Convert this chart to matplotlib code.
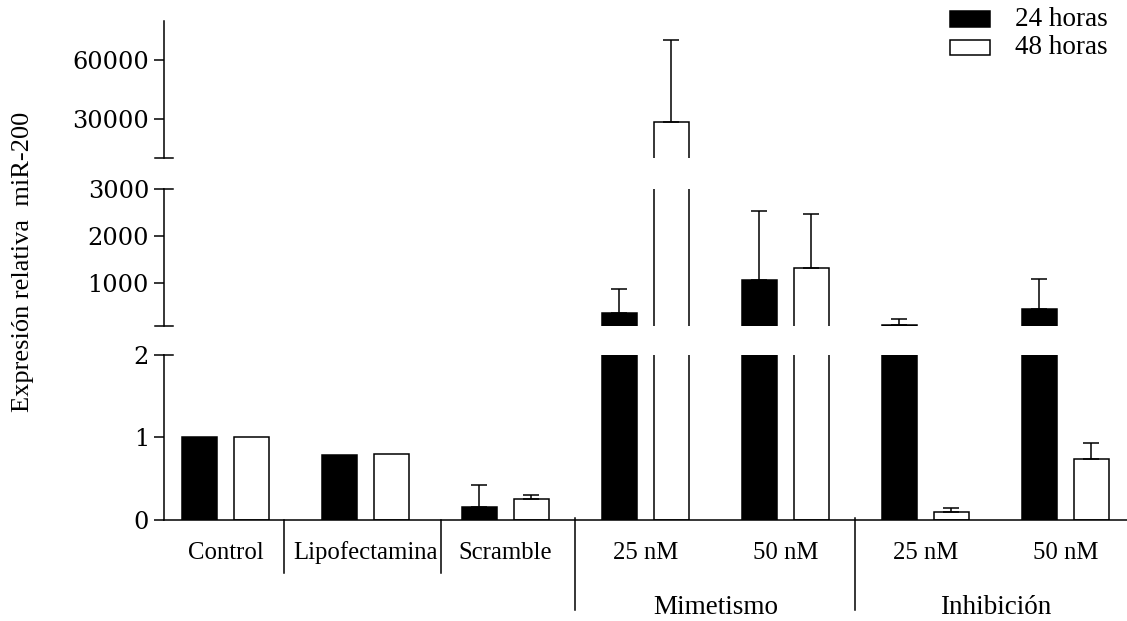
import numpy as np
import matplotlib
matplotlib.use('Agg')
import matplotlib.pyplot as plt
from matplotlib.patches import Rectangle

categorias = ['Control', 'Lipofectamina', 'Scramble', '25 nM', '50 nM', '25 nM', '50 nM']
grupos = ['Mimetismo', 'Inhibición']
series = ['24 horas', '48 horas']

h24 = [1.0, 0.79, 0.16, 357, 1075, 103, 457]
h24_err = [0, 0, 0.26, 511, 1461, 142, 639]
h48 = [1.0, 0.80, 0.25, 28400, 1321, 0.10, 0.735]
h48_err = [0, 0, 0.05, 41900, 1143, 0.045, 0.195]

# broken y axis: (ylim, ticks), bottom to top
tramos = [((0, 2), [0, 1, 2]),
          ((100, 3000), [1000, 2000, 3000]),
          ((10000, 80000), [30000, 60000])]

W, H = 1127, 621
fig = plt.figure(figsize=(W / 100, H / 100), dpi=100)

left = 164 / W
width = 1 - left
# pixel extents (top, bottom) of each segment
extents = [(354.5, 520), (188.9, 325.5), (20.6, 158.4)]

x = np.arange(len(categorias))
bw = 0.25
off = 0.186
lw = 1.1
tick_font = dict(family='DejaVu Serif', size=17.3)
break_dx = 9 / (W - 164)

axes = []
for (ylim, yt), (ytop, ybot) in zip(tramos, extents):
    ax = fig.add_axes([left, 1 - ybot / H, width, (ybot - ytop) / H])
    ax.bar(x - off, h24, bw, color='black', edgecolor='black', linewidth=lw)
    ax.bar(x + off, h48, bw, color='white', edgecolor='black', linewidth=lw)
    for xs, v, e in [(x - off, h24, h24_err), (x + off, h48, h48_err)]:
        m = np.array(e) > 0
        ax.errorbar(xs[m], np.array(v)[m], yerr=[np.zeros(m.sum()), np.array(e)[m]],
                    fmt='none', ecolor='black', elinewidth=lw, capsize=5.8, capthick=lw,
                    zorder=3)
    ax.set_xlim(-0.439, 6.44)
    ax.set_ylim(*ylim)
    ax.set_yticks(yt)
    ax.set_yticklabels([str(t) for t in yt], fontdict=tick_font)
    ax.tick_params(axis='y', length=7.2, width=lw, pad=3.6)
    ax.set_xticks([])
    for s in ['top', 'right', 'bottom']:
        ax.spines[s].set_visible(False)
    ax.spines['left'].set_linewidth(lw)
    ax.patch.set_visible(False)
    axes.append(ax)

ax0, ax1, ax2 = axes
ax0.spines['bottom'].set_visible(True)
ax0.spines['bottom'].set_linewidth(lw)

# break marks on the y axis
for ax in (ax1, ax2):
    ax.plot([-break_dx, break_dx], [0, 0], transform=ax.transAxes, color='black',
            lw=lw, clip_on=False)
for ax in (ax0, ax1):
    ax.plot([0, break_dx], [1, 1], transform=ax.transAxes, color='black',
            lw=lw, clip_on=False)

# category labels and separators
tr = ax0.get_xaxis_transform()
ax_h = 520 - 354.5
for xi, c in zip(x, categorias):
    ax0.text(xi, -(553 - 520) / ax_h, c, transform=tr, ha='center', va='center',
             family='Liberation Serif', fontsize=17.8)
for xs in [0.42, 1.537]:
    ax0.plot([xs, xs], [0, -(573 - 520) / ax_h], transform=tr, color='black',
             lw=lw, clip_on=False)
for xs in [2.5, 4.5]:
    ax0.plot([xs, xs], [0.012, -(610 - 520) / ax_h], transform=tr, color='black',
             lw=lw, clip_on=False)
for xc, g in zip([3.5, 5.5], grupos):
    ax0.text(xc, -(607 - 520) / ax_h, g, transform=tr, ha='center', va='center',
             family='Liberation Serif', fontsize=19.5)

fig.text(23 / W, 1 - 261.5 / H, 'Expresión relativa  miR-200', rotation=90,
         ha='center', va='center', family='Liberation Serif', fontsize=19)

# legend
for (y0, y1), fc, lab in zip([(11, 27), (40, 55)], ['black', 'white'], series):
    fig.add_artist(Rectangle((950 / W, 1 - y1 / H), 40 / W, (y1 - y0) / H,
                             facecolor=fc, edgecolor='black', linewidth=lw,
                             transform=fig.transFigure))
    fig.text(1015 / W, 1 - (y0 + y1) / 2 / H, lab, ha='left', va='center',
             family='Liberation Serif', fontsize=19.5)

fig.savefig('out.png', dpi=100)
